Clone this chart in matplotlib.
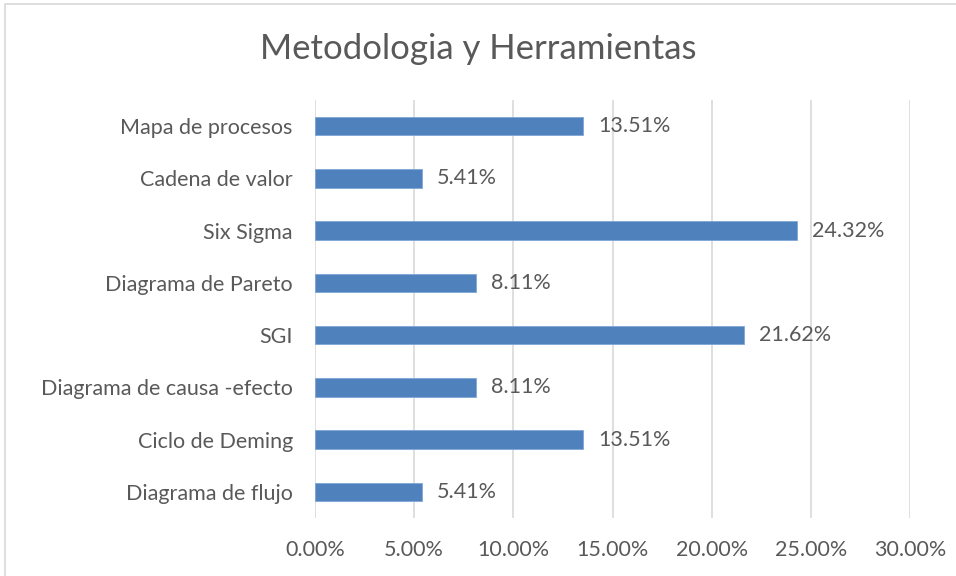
import matplotlib.pyplot as plt
from matplotlib.patches import Rectangle
from matplotlib.ticker import FuncFormatter
import numpy as np

categorias = ['Mapa de procesos', 'Cadena de valor', 'Six Sigma', 'Diagrama de Pareto',
              'SGI', 'Diagrama de causa -efecto', 'Ciclo de Deming', 'Diagrama de flujo']
valores = [13.51, 5.41, 24.32, 8.11, 21.62, 8.11, 13.51, 5.41]

plt.rcParams['font.family'] = ['Lato', 'DejaVu Sans']
gris = '#595959'

fig = plt.figure(figsize=(9.56, 5.76), dpi=100)
ax = fig.add_axes([0.3295, 0.1007, 0.6224, 0.7257])

# borde del grafico
fig.patches.append(Rectangle((0.005, -0.01), 1.2, 1.003, transform=fig.transFigure,
                             fill=False, edgecolor='#d9d9d9', linewidth=1.2))

y = np.arange(len(categorias))
ax.barh(y, valores, height=0.35, color='#4f81bd', edgecolor='#7ea6d8', linewidth=0.6, zorder=3)
for yi, v in zip(y, valores):
    ax.text(v + 0.75, yi, '%.2f%%' % v, va='center', ha='left', fontsize=15.5, color=gris)

ax.set_xlim(0, 30)
ax.set_ylim(len(categorias) - 0.5, -0.5)
ax.set_xticks(np.arange(0, 31, 5))
ax.xaxis.set_major_formatter(FuncFormatter(lambda x, p: '%.2f%%' % x))
ax.set_yticks(y)
ax.set_yticklabels(categorias)
ax.tick_params(axis='both', length=0, labelsize=15.5, colors=gris)
ax.tick_params(axis='x', pad=16)
ax.tick_params(axis='y', pad=16)
ax.grid(axis='x', color='#d9d9d9', linewidth=1.2, zorder=0)
for s in ax.spines.values():
    s.set_visible(False)

fig.text(0.5, 0.915, 'Metodologia y Herramientas', ha='center', va='center', fontsize=25, color=gris)

fig.savefig('out.png', dpi=100)
